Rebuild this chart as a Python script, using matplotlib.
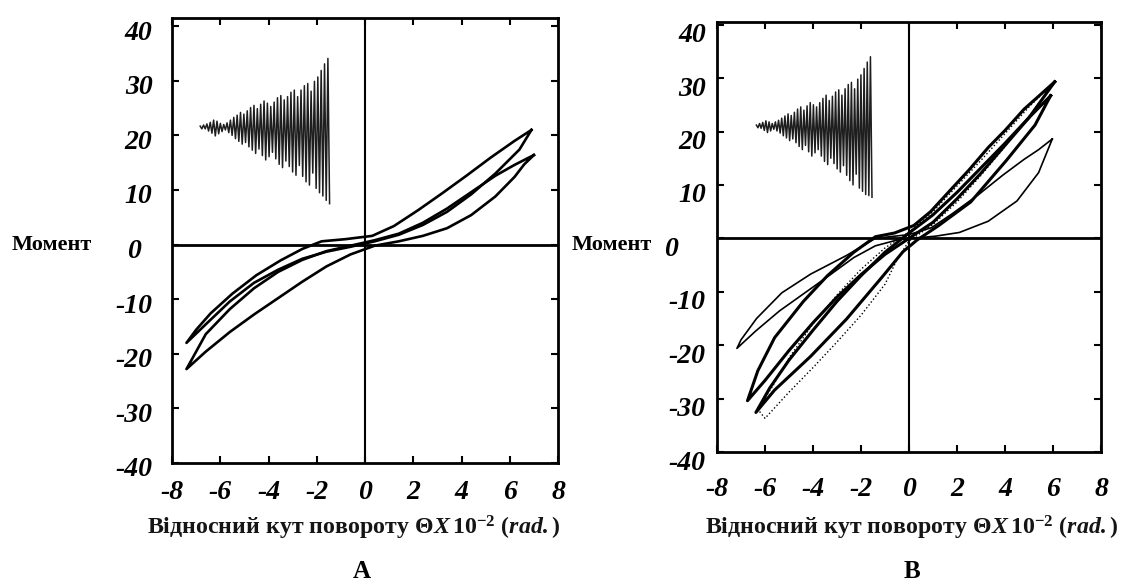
import matplotlib
matplotlib.use("Agg")
import matplotlib.pyplot as plt
import matplotlib.transforms as mtransforms
import numpy as np

plt.rcParams['font.family'] = ['Liberation Serif', 'DejaVu Serif']
plt.rcParams['mathtext.fontset'] = 'custom'
plt.rcParams['mathtext.rm'] = 'Liberation Serif:bold'
plt.rcParams['mathtext.bf'] = 'Liberation Serif:bold'
plt.rcParams['mathtext.it'] = 'Liberation Serif:bold:italic'

# ---- data ----
x_ticks = [-8, -6, -4, -2, 0, 2, 4, 6, 8]
y_ticks = [-40, -30, -20, -10, 0, 10, 20, 30, 40]

# panel A: two hysteresis loops (rotation x1e-2 rad, moment)
a1_x = [6.9, 6.2, 5.2, 4.2, 3.2, 2.2, 1.2, 0.3, -0.8, -1.8, -2.6, -3.5, -4.5, -5.5, -6.4, -7.0, -7.4,
        -6.6, -5.6, -4.6, -3.6, -2.6, -1.6, -0.6, 0.4, 1.4, 2.4, 3.4, 4.4, 5.4, 6.4, 6.9]
a1_y = [21.0, 19.0, 15.9, 12.6, 9.4, 6.3, 3.4, 1.6, 1.0, 0.6, -0.8, -2.9, -5.6, -9.0, -12.6, -15.6, -18.0,
        -14.6, -10.4, -7.0, -4.6, -2.6, -1.3, -0.4, 0.6, 1.8, 3.6, 6.0, 9.2, 13.0, 17.4, 21.0]
a2_x = [7.0, 6.2, 5.4, 4.4, 3.4, 2.4, 1.4, 0.4, -0.6, -1.6, -2.6, -3.6, -4.6, -5.6, -6.6, -7.4,
        -6.6, -5.6, -4.6, -3.6, -2.6, -1.6, -0.6, 0.4, 1.4, 2.4, 3.4, 4.4, 5.4, 6.2, 6.6, 7.0]
a2_y = [16.4, 14.6, 12.6, 9.6, 6.6, 4.0, 2.0, 0.8, -0.2, -1.2, -2.8, -5.0, -8.0, -11.8, -16.4, -22.8,
        -19.6, -16.0, -12.8, -9.8, -6.8, -4.0, -1.8, -0.2, 0.6, 1.6, 3.0, 5.4, 8.8, 12.4, 14.7, 16.4]

# panel B: thin wide loop, two thick loops, dotted outer loop
b_thin_x = [5.97, 5.4, 4.8, 3.9, 2.9, 1.8, 0.94, 0.0, -0.7, -1.4, -2.6, -4.1, -5.3, -6.35, -7.0, -7.17,
            -6.4, -5.4, -4.4, -3.4, -2.3, -1.4, -0.4, 0.34, 1.1, 2.1, 3.3, 4.5, 5.4, 5.97]
b_thin_y = [18.6, 16.6, 14.8, 11.8, 8.2, 4.6, 2.0, 0.7, 0.35, 0.0, -3.2, -6.7, -10.2, -15.0, -19.0, -20.6,
            -17.4, -13.6, -10.4, -7.2, -3.6, -1.4, -0.2, 0.1, 0.4, 1.1, 3.2, 7.0, 12.3, 18.6]
b_k1_x = [6.07, 5.4, 4.8, 4.0, 3.3, 2.5, 1.8, 0.9, 0.2, -0.6, -1.4, -2.3, -3.4, -4.4, -5.6, -6.3, -6.73,
          -6.0, -5.0, -4.0, -3.0, -2.0, -1.0, 0.0, 1.0, 2.0, 3.0, 4.0, 5.0, 6.07]
b_k1_y = [29.3, 26.6, 24.2, 20.2, 17.0, 12.8, 9.4, 5.0, 2.4, 1.0, 0.3, -2.6, -7.0, -11.8, -18.6, -24.8, -30.4,
          -26.6, -21.0, -15.8, -11.0, -6.8, -3.0, 0.0, 3.0, 7.4, 12.2, 17.4, 22.6, 29.3]
b_k2_x = [5.9, 5.0, 4.0, 3.0, 2.0, 1.0, 0.0, -1.0, -2.0, -3.0, -4.0, -5.0, -5.8, -6.38,
          -5.6, -4.1, -2.6, -1.15, -0.25, 0.34, 1.24, 2.57, 4.06, 5.25, 5.9]
b_k2_y = [26.7, 22.6, 17.8, 13.2, 8.6, 4.4, 1.0, -2.6, -7.0, -11.8, -17.2, -22.8, -28.0, -32.6,
          -28.4, -22.1, -15.1, -7.4, -2.5, -0.3, 2.4, 6.8, 14.6, 21.2, 26.7]
b_dot_x = [6.1, 5.0, 4.0, 3.0, 2.0, 1.0, 0.0, -1.0, -2.0, -3.0, -4.0, -5.0, -5.7, -6.3, -6.0,
           -5.0, -4.0, -3.0, -2.0, -1.0, -0.5, 0.0, 1.0, 2.0, 3.0, 4.0, 5.0, 6.1]
b_dot_y = [29.5, 24.6, 19.6, 14.6, 9.8, 5.0, 1.2, -1.8, -5.8, -10.6, -16.0, -22.4, -27.8, -32.0, -33.7,
           -28.8, -24.2, -19.4, -14.4, -8.6, -4.0, -0.5, 2.6, 6.8, 11.8, 17.2, 22.8, 29.5]

# ground-motion record drawn as inset (alternating peaks)
signal_a = [0.2, -0.3, 0.4, -0.3, 0.6, -0.7, 0.9, -1.1, 1.3, -1.6, 1.1, -1.2, 0.7, -0.8, 0.5, -0.5,
            0.8, -1.0, 1.3, -1.5, 1.8, -2.1, 2.2, -2.6, 2.7, -3.1, 2.4, -2.8, 3.0, -3.6, 3.6, -4.2,
            4.0, -4.8, 3.4, -4.0, 4.2, -5.2, 4.8, -6.0, 4.4, -5.4, 3.8, -4.6, 4.6, -5.8, 5.4, -6.8,
            5.8, -7.4, 5.0, -6.2, 5.6, -7.2, 6.4, -8.2, 6.8, -8.8, 5.6, -7.0, 6.8, -9.0, 7.6, -10.0,
            8.0, -10.6, 6.6, -8.4, 8.4, -11.2, 9.2, -12.0, 10.4, -12.6, 11.6, -13.4, 12.6, -14.0]
signal_b = [0.2, -0.3, 0.5, -0.4, 0.7, -0.8, 1.0, -1.2, 0.8, -0.9, 0.5, -0.6, 0.8, -0.9, 1.1, -1.3,
            1.5, -1.8, 1.9, -2.2, 2.3, -2.7, 2.0, -2.4, 2.6, -3.1, 3.2, -3.8, 3.6, -4.4, 3.0, -3.6,
            3.8, -4.8, 4.4, -5.6, 4.0, -5.0, 3.6, -4.4, 4.4, -5.6, 5.2, -6.6, 5.8, -7.2, 4.8, -6.0,
            5.6, -7.0, 6.4, -8.0, 6.8, -8.6, 5.8, -7.4, 7.0, -9.2, 7.8, -10.2, 8.2, -11.0, 7.0, -9.0,
            8.8, -11.6, 9.6, -12.2, 10.8, -12.8, 12.0, -13.0, 13.0, -13.6]

fig = plt.figure(figsize=(11.27, 5.88), dpi=100)
# boxes: A 172..558 x 18..463 px, B 717..1101 x 22..452 px
axA = fig.add_axes([172 / 1127, 1 - 463 / 588, 386 / 1127, 445 / 588])
axB = fig.add_axes([717 / 1127, 1 - 452 / 588, 384 / 1127, 430 / 588])

tick_font = dict(family='Liberation Serif', weight='bold', style='italic', size=20)
xlabel = r'$\mathbf{Відносний\ кут\ повороту}\ \mathit{\Theta X\,10^{-2}\ (rad.)}$'


def style_axes(ax, ylim, ypad, xpad, ydrop, zero_left):
    ax.set_xlim(-8, 8)
    ax.set_ylim(*ylim)
    ax.set_xticks(x_ticks)
    ax.set_yticks(y_ticks)
    ax.set_xticklabels([str(t) for t in x_ticks], fontdict=tick_font)
    ax.set_yticklabels([str(t) for t in y_ticks], fontdict=tick_font)
    ax.tick_params(direction='in', length=5, width=1.5, top=True, right=True, left=True)
    ax.tick_params(axis='y', pad=ypad)
    ax.tick_params(axis='x', pad=xpad)
    # printed labels sit a little below their ticks, the "0" further left
    for lab, t in zip(ax.get_yticklabels(), y_ticks):
        dx = -zero_left if t == 0 else 0
        shift = mtransforms.ScaledTranslation(dx / 100, -ydrop / 100, fig.dpi_scale_trans)
        lab.set_transform(lab.get_transform() + shift)
    for s in ax.spines.values():
        s.set_linewidth(2)
    ax.axhline(0, color='black', lw=2.0)
    ax.axvline(0, color='black', lw=1.5)


style_axes(axA, (-40, 41.5), 14, 12, 4, 12)
style_axes(axB, (-40, 40.5), 8, 18, 8, 28)

axA.plot(a1_x, a1_y, color='black', lw=1.9)
axA.plot(a2_x, a2_y, color='black', lw=1.9)

axB.plot(b_thin_x, b_thin_y, color='black', lw=1.2)
axB.plot(b_k1_x, b_k1_y, color='black', lw=2.2)
axB.plot(b_k2_x, b_k2_y, color='black', lw=2.2)
axB.plot(b_dot_x, b_dot_y, color='black', lw=1.0, ls=':')

# insets with the input record
insA = axA.inset_axes([-7.1, 7, 5.9, 28], transform=axA.transData)
insA.plot(np.arange(len(signal_a)), signal_a, color='#1e1e1e', lw=1.1)
insA.set_ylim(-14.5, 13.5)
insA.axis('off')

insB = axB.inset_axes([-6.6, 7.5, 5.3, 27], transform=axB.transData)
insB.plot(np.arange(len(signal_b)), signal_b, color='#1e1e1e', lw=1.1)
insB.set_ylim(-13.5, 13.5)
insB.axis('off')

fig.text(12 / 1127, 1 - 245 / 588, 'Момент', fontsize=16, fontweight='bold', va='center', ha='left')
fig.text(572 / 1127, 1 - 245 / 588, 'Момент', fontsize=16, fontweight='bold', va='center', ha='left')

fig.text(354 / 1127, 1 - 528 / 588, xlabel, fontsize=17.2, ha='center', va='center', color='#151515')
fig.text(912 / 1127, 1 - 528 / 588, xlabel, fontsize=17.2, ha='center', va='center', color='#151515')

fig.text(362 / 1127, 1 - 572 / 588, 'A', fontsize=18, fontweight='bold', ha='center', va='center')
fig.text(912 / 1127, 1 - 572 / 588, 'B', fontsize=18, fontweight='bold', ha='center', va='center')

fig.savefig('out.png', dpi=100)
